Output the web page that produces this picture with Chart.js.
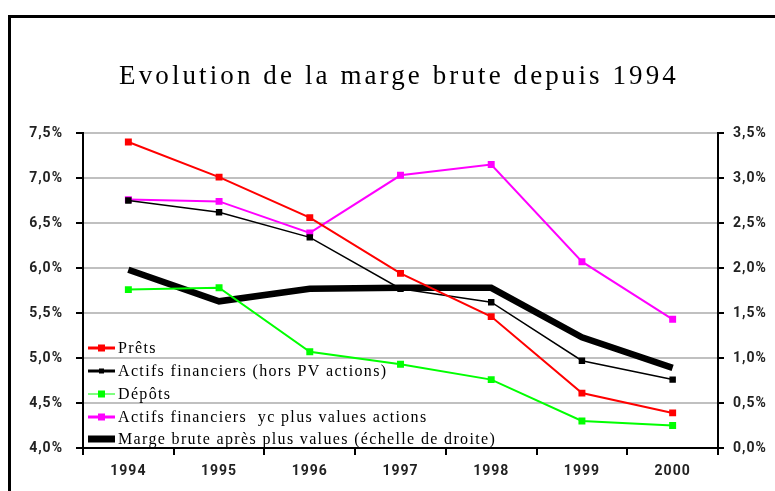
<!DOCTYPE html>
<html>
<head>
<meta charset="utf-8">
<script src="https://cdn.jsdelivr.net/npm/chart.js@4/dist/chart.umd.min.js"></script>
<style>
  html, body { margin: 0; padding: 0; background: #fff; }
  #wrap { position: relative; width: 775px; height: 491px; }
</style>
</head>
<body>
<div id="wrap"><canvas id="chart" width="775" height="491"></canvas></div>
<script>
const years = ["1994", "1995", "1996", "1997", "1998", "1999", "2000"];
const prets = [7.40, 7.01, 6.56, 5.94, 5.46, 4.61, 4.39];
const actifsHorsPV = [6.75, 6.62, 6.34, 5.77, 5.62, 4.97, 4.76];
const depots = [5.76, 5.78, 5.07, 4.93, 4.76, 4.30, 4.25];
const actifsAvecPV = [6.76, 6.74, 6.39, 7.03, 7.15, 6.07, 5.43];
const margeBrute = [1.98, 1.63, 1.77, 1.78, 1.78, 1.23, 0.89];
const titleText = "Evolution de la marge brute depuis 1994";

const pct = (v) => v.toFixed(1).replace(".", ",") + "%";

// frame, title and the legend drawn inside the plot
const decor = {
  id: "decor",
  beforeDraw(chart) {
    const ctx = chart.ctx;
    ctx.save();
    ctx.fillStyle = "#000";
    ctx.fillRect(8, 15, 775, 3);
    ctx.fillRect(8, 15, 3, 491);
    ctx.font = '27px "Liberation Serif"';
    ctx.letterSpacing = "3.1px";
    ctx.textAlign = "center";
    ctx.textBaseline = "alphabetic";
    ctx.fillText(titleText, 399, 84);
    ctx.restore();
    ctx.letterSpacing = "1px";
  },
  afterDraw(chart) {
    const ctx = chart.ctx;
    const rows = [348, 371, 394, 417, 439];
    ctx.save();
    ctx.font = '16px "Liberation Serif"';
    ctx.letterSpacing = "1.35px";
    ctx.textAlign = "left";
    ctx.textBaseline = "middle";
    chart.data.datasets.forEach((ds, i) => {
      const y = rows[i];
      ctx.strokeStyle = ds.borderColor;
      ctx.lineWidth = ds.legendLine;
      ctx.beginPath();
      ctx.moveTo(88, y);
      ctx.lineTo(115, y);
      ctx.stroke();
      if (ds.pointRadius > 0) {
        const s = ds.legendMark;
        ctx.fillStyle = ds.borderColor;
        ctx.fillRect(101.5 - s / 2, y - s / 2, s, s);
      }
      ctx.fillStyle = "#000";
      ctx.fillText(ds.label, 118, y + 1);
    });
    ctx.restore();
  }
};

const tickFont = { family: "Roboto", size: 14, weight: "bold" };

new Chart(document.getElementById("chart"), {
  type: "line",
  data: {
    labels: years,
    datasets: [
      {
        label: "Prêts",
        data: prets,
        borderColor: "#ff0000",
        backgroundColor: "#ff0000",
        borderWidth: 2,
        pointStyle: "rect",
        pointRadius: 3.5,
        legendLine: 3,
        legendMark: 7,
        yAxisID: "y",
      },
      {
        label: "Actifs financiers (hors PV actions)",
        data: actifsHorsPV,
        borderColor: "#000000",
        backgroundColor: "#000000",
        borderWidth: 1.5,
        pointStyle: "rect",
        pointRadius: 3.5,
        legendLine: 3,
        legendMark: 5,
        yAxisID: "y",
      },
      {
        label: "Dépôts",
        data: depots,
        borderColor: "#00ff00",
        backgroundColor: "#00ff00",
        borderWidth: 2,
        pointStyle: "rect",
        pointRadius: 3.5,
        legendLine: 1,
        legendMark: 7,
        yAxisID: "y",
      },
      {
        label: "Actifs financiers  yc plus values actions",
        data: actifsAvecPV,
        borderColor: "#ff00ff",
        backgroundColor: "#ff00ff",
        borderWidth: 2,
        pointStyle: "rect",
        pointRadius: 3.5,
        legendLine: 3,
        legendMark: 7,
        yAxisID: "y",
      },
      {
        label: "Marge brute après plus values (échelle de droite)",
        data: margeBrute,
        borderColor: "#000000",
        backgroundColor: "#000000",
        borderWidth: 6.5,
        pointRadius: 0,
        legendLine: 7,
        legendMark: 0,
        yAxisID: "y2",
      },
    ],
  },
  options: {
    responsive: false,
    animation: false,
    layout: { padding: { top: 133, left: 0, right: 0, bottom: 0 } },
    elements: { line: { tension: 0 } },
    plugins: {
      legend: { display: false },
      title: { display: false },
      tooltip: { enabled: false },
    },
    scales: {
      x: {
        offset: true,
        grid: {
          offset: true,
          drawOnChartArea: false,
          color: "#000",
          tickColor: "#000",
          tickLength: 7,
          lineWidth: 2,
        },
        border: { color: "#000", width: 2 },
        ticks: { font: tickFont, color: "#222", padding: 8, maxRotation: 0 },
        afterFit: (s) => { s.height = 43; },
      },
      y: {
        position: "left",
        min: 4,
        max: 7.5,
        grid: { color: "#c0c0c0", lineWidth: 2, tickColor: "#000", tickLength: 7 },
        border: { color: "#000", width: 2 },
        ticks: { stepSize: 0.5, font: tickFont, color: "#222", padding: 13, callback: pct },
        afterFit: (s) => { s.width = 83; },
      },
      y2: {
        position: "right",
        min: 0,
        max: 3.5,
        grid: { drawOnChartArea: false, color: "#000", tickColor: "#000", tickLength: 6, lineWidth: 2 },
        border: { color: "#000", width: 2 },
        ticks: { stepSize: 0.5, font: tickFont, color: "#222", padding: 9, callback: pct },
        afterFit: (s) => { s.width = 57; },
      },
    },
  },
  plugins: [decor],
});
</script>
</body>
</html>
